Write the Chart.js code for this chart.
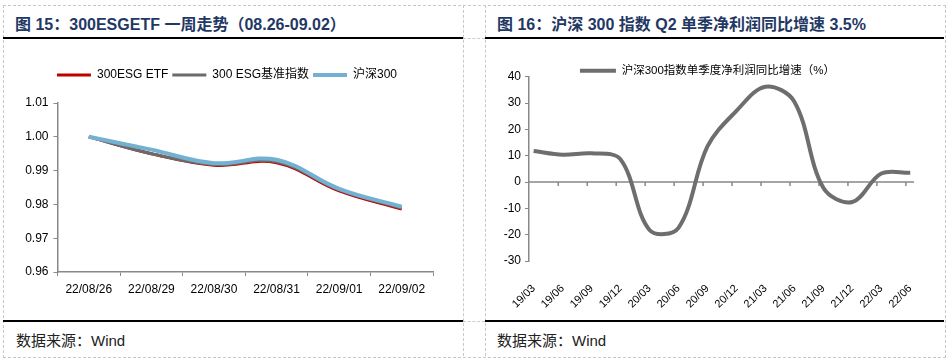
<!DOCTYPE html>
<html>
<head>
<meta charset="utf-8">
<script src="https://cdn.jsdelivr.net/npm/chart.js@4.4.0/dist/chart.umd.min.js"></script>
<style>
  body { margin: 0; background: #fff; width: 952px; height: 361px; overflow: hidden; position: relative;
         font-family: 'Liberation Sans', Arial, 'Noto Sans CJK SC', sans-serif; }
  .dash { position: absolute; border: 0 dashed #c8c8c8; }
  .rule { position: absolute; height: 2px; background: #000; }
  .title { position: absolute; top: 11px; font-size: 16px; font-weight: bold; color: #1f3864; white-space: nowrap; }
  .source { position: absolute; top: 329px; font-size: 15px; color: #222; white-space: nowrap; }
  canvas { position: absolute; }
</style>
</head>
<body>
<div class="dash" style="left:3px;top:5px;width:941px;height:351px;border-width:1px;"></div>
<div class="dash" style="left:463px;top:5px;height:351px;border-left-width:1px;"></div>
<div class="dash" style="left:485px;top:5px;height:351px;border-left-width:1px;"></div>
<div class="dash" style="left:463px;top:38px;width:22px;border-top-width:1px;"></div>
<div class="dash" style="left:463px;top:321px;width:22px;border-top-width:1px;"></div>
<div class="rule" style="left:3px;top:37px;width:460px;"></div>
<div class="rule" style="left:485px;top:37px;width:459px;"></div>
<div class="rule" style="left:3px;top:320px;width:460px;"></div>
<div class="rule" style="left:485px;top:320px;width:459px;"></div>

<div class="title" style="left:15px;">图 15：300ESGETF 一周走势（08.26-09.02）</div>
<div class="title" style="left:497px;">图 16：沪深 300 指数 Q2 单季净利润同比增速 3.5%</div>
<div class="source" style="left:16px;">数据来源：Wind</div>
<div class="source" style="left:497px;">数据来源：Wind</div>

<canvas id="weekChart" width="460" height="279" style="left:3px;top:41px;"></canvas>
<canvas id="profitChart" width="459" height="279" style="left:485px;top:41px;"></canvas>

<script>
const days = ['22/08/26', '22/08/29', '22/08/30', '22/08/31', '22/09/01', '22/09/02'];
const etf = [1.0000, 0.9950, 0.9916, 0.9923, 0.9840, 0.9786];
const esgIndex = [1.0000, 0.9950, 0.9918, 0.9926, 0.9843, 0.9789];
const hs300 = [1.0000, 0.9962, 0.9922, 0.9932, 0.9846, 0.9793];
const weekTicks = [0.96, 0.97, 0.98, 0.99, 1.00, 1.01];

const quarters = ['19/03', '19/06', '19/09', '19/12', '20/03', '20/06', '20/09',
                  '20/12', '21/03', '21/06', '21/09', '21/12', '22/03', '22/06'];
const profitGrowth = [11.8, 10.4, 10.9, 8.6, -18.2, -17.4, 13.5, 27.0, 36.2, 30.5, -2.2, -7.6, 3.2, 3.5];
const growthTicks = [-30, -20, -10, 0, 10, 20, 30, 40];

Chart.defaults.font.family = "'Liberation Sans', Arial, 'Noto Sans CJK SC', sans-serif";
Chart.defaults.font.size = 12;
Chart.defaults.color = '#000';

const axisGrey = '#888';

// legend keeps its look but takes a fixed height in the layout
function legendBox(height) {
  return {
    id: 'legendBox',
    afterInit(chart) {
      if (!chart.legend) return;
      const fit = chart.legend.fit;
      chart.legend.fit = function () { fit.call(this); this.height = height; };
    }
  };
}

// zero line with small tick marks for the quarterly chart
const zeroAxis = {
  id: 'zeroAxis',
  beforeDatasetsDraw(chart) {
    const { ctx, chartArea, scales: { x, y } } = chart;
    const y0 = y.getPixelForValue(0);
    ctx.save();
    ctx.strokeStyle = axisGrey;
    ctx.lineWidth = 1.5;
    ctx.beginPath();
    ctx.moveTo(chartArea.left, y0);
    ctx.lineTo(chartArea.right, y0);
    quarters.forEach((q, i) => {
      if (i === 0) return;
      const px = x.getPixelForValue(i - 0.15);
      ctx.moveTo(px, y0);
      ctx.lineTo(px, y0 + 4);
    });
    ctx.stroke();
    ctx.restore();
  }
};

new Chart(document.getElementById('weekChart'), {
  type: 'line',
  data: {
    labels: days,
    datasets: [{
      label: '300ESG ETF',
      data: etf,
      borderColor: '#c00000',
      backgroundColor: '#c00000',
      borderWidth: 3,
      order: 2
    }, {
      label: '300 ESG基准指数',
      data: esgIndex,
      borderColor: '#6b6b6b',
      backgroundColor: '#6b6b6b',
      borderWidth: 3,
      order: 1
    }, {
      label: '沪深300',
      data: hs300,
      borderColor: '#72b1d1',
      backgroundColor: '#72b1d1',
      borderWidth: 4,
      order: 0
    }]
  },
  options: {
    responsive: false,
    animation: false,
    events: [],
    layout: { padding: { left: 18, right: 30, top: 24, bottom: 18 } },
    elements: { point: { radius: 0 }, line: { tension: 0.4 } },
    plugins: {
      tooltip: { enabled: false },
      legend: {
        position: 'top',
        labels: {
          usePointStyle: true,
          pointStyle: 'line',
          pointStyleWidth: 34,
          padding: 4,
          font: { size: 12 },
          sort: (a, b) => a.datasetIndex - b.datasetIndex
        }
      }
    },
    scales: {
      x: {
        offset: true,
        grid: { offset: true, drawOnChartArea: false, color: axisGrey, tickLength: 4 },
        border: { color: axisGrey, width: 1.5 },
        ticks: { padding: 6, maxRotation: 0, autoSkip: false },
        afterFit: s => { s.height = 30; }
      },
      y: {
        min: 0.96,
        max: 1.01,
        afterBuildTicks: s => { s.ticks = weekTicks.map(v => ({ value: v })); },
        grid: { drawOnChartArea: false, color: axisGrey, tickLength: 4 },
        border: { color: axisGrey, width: 1.5 },
        ticks: { padding: 5, callback: v => v.toFixed(2) },
        afterFit: s => { s.width = 36.5; }
      }
    }
  },
  plugins: [legendBox(38)]
});

new Chart(document.getElementById('profitChart'), {
  type: 'line',
  data: {
    datasets: [{
      label: '沪深300指数单季度净利润同比增速（%）',
      data: profitGrowth.map((v, i) => ({ x: i, y: v })),
      borderColor: '#6e6e6e',
      backgroundColor: '#6e6e6e',
      borderWidth: 4,
      tension: 0.35
    }]
  },
  options: {
    responsive: false,
    animation: false,
    events: [],
    layout: { padding: { left: 16, right: 30, top: 14, bottom: 2 } },
    elements: { point: { radius: 0 } },
    plugins: {
      tooltip: { enabled: false },
      legend: {
        position: 'top',
        labels: {
          usePointStyle: true,
          pointStyle: 'line',
          pointStyleWidth: 36,
          padding: 10,
          font: { size: 11.5 }
        }
      }
    },
    scales: {
      x: {
        type: 'linear',
        min: -0.16,
        max: 13.13,
        afterBuildTicks: s => { s.ticks = quarters.map((q, i) => ({ value: i })); },
        grid: { display: false },
        border: { display: false },
        ticks: { padding: 13, minRotation: 45, maxRotation: 45, autoSkip: false,
                 font: { size: 11 }, callback: v => quarters[v] },
        afterFit: s => { s.height = 57; }
      },
      y: {
        min: -30,
        max: 40,
        afterBuildTicks: s => { s.ticks = growthTicks.map(v => ({ value: v })); },
        grid: { drawOnChartArea: false, color: axisGrey, tickLength: 4 },
        border: { color: axisGrey, width: 1.5 },
        ticks: { padding: 4 },
        afterFit: s => { s.width = 28; }
      }
    }
  },
  plugins: [legendBox(21.7), zeroAxis]
});
</script>
</body>
</html>
